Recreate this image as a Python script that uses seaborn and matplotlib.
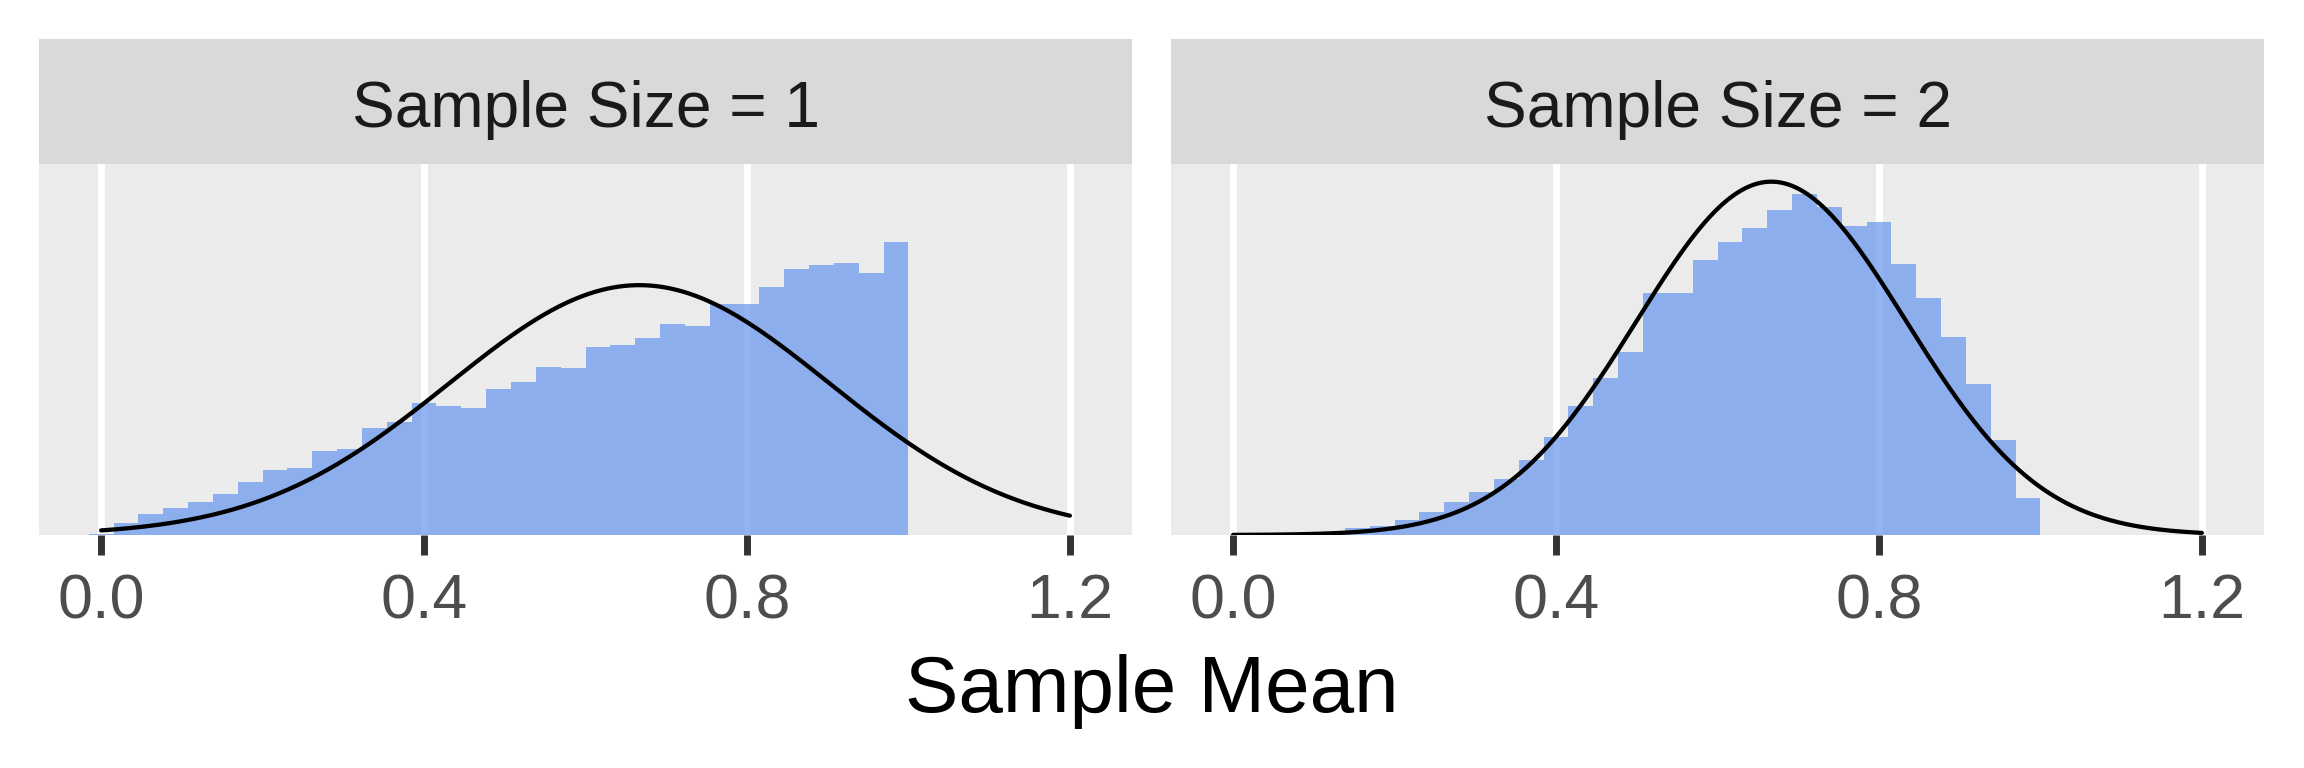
import numpy as np
import pandas as pd
import seaborn as sns
import matplotlib.pyplot as plt

# histogram densities (bins of width 1.2/39 centred on k * width)
BIN_WIDTH = 1.2 / 39
size1_first_bin = 0
size1_density = [
    0.010, 0.079, 0.140, 0.181, 0.222, 0.276, 0.357, 0.439, 0.452, 0.567,
    0.581, 0.723, 0.764, 0.893, 0.873, 0.859, 0.988, 1.035, 1.137, 1.130,
    1.273, 1.286, 1.334, 1.428, 1.415, 1.564, 1.564, 1.679, 1.801, 1.828,
    1.842, 1.774, 1.984,
]
size2_first_bin = 3
size2_density = [
    0.010, 0.020, 0.045, 0.059, 0.100, 0.154, 0.222, 0.290, 0.378, 0.506,
    0.662, 0.873, 1.062, 1.239, 1.639, 1.639, 1.862, 1.984, 2.079, 2.201,
    2.310, 2.222, 2.093, 2.120, 1.835, 1.605, 1.340, 1.022, 0.642, 0.249,
]

# normal approximation: population mean / sd, curve drawn over [0, 1.2]
pop_mean = 2 / 3
pop_sd = np.sqrt(1 / 18)
curve_range = (0.0, 1.2)
sample_sizes = [1, 2]
x_ticks = [0.0, 0.4, 0.8, 1.2]
x_tick_labels = ["0.0", "0.4", "0.8", "1.2"]


def hist_frame(first_bin, density):
    k = np.arange(first_bin, first_bin + len(density))
    return pd.DataFrame({"center": k * BIN_WIDTH, "density": density})


def curve_frame(n):
    sd = pop_sd / np.sqrt(n)
    x = np.linspace(curve_range[0], curve_range[1], 500)
    y = np.exp(-0.5 * ((x - pop_mean) / sd) ** 2) / (sd * np.sqrt(2 * np.pi))
    return pd.DataFrame({"x": x, "y": y})


def main():
    sns.set_theme(
        style="darkgrid",
        rc={
            "axes.facecolor": "#EBEBEB",
            "grid.color": "white",
            "grid.linewidth": 2.6,
        },
    )
    plt.rcParams["font.family"] = ["Liberation Sans", "DejaVu Sans"]

    hists = [
        hist_frame(size1_first_bin, size1_density),
        hist_frame(size2_first_bin, size2_density),
    ]
    curves = [curve_frame(n) for n in sample_sizes]
    y_top = max(c["y"].max() for c in curves) * 1.05

    W, H = 2304, 768
    fig = plt.figure(figsize=(12, 4), dpi=192)

    panel_left = [39, 1171]
    panel_w = 1093
    panel_top, panel_bottom = 164, 535
    strip_top = 39

    # bins in the scale run from -w/2 to 1.2 + w/2, then 5% expansion
    lo = -BIN_WIDTH / 2
    hi = 1.2 + BIN_WIDTH / 2
    pad = (hi - lo) * 0.05

    for i, n in enumerate(sample_sizes):
        left = panel_left[i] / W
        ax = fig.add_axes(
            [left, 1 - panel_bottom / H, panel_w / W, (panel_bottom - panel_top) / H]
        )
        h = hists[i]
        b_lo = h["center"].iloc[0] - BIN_WIDTH / 2
        b_hi = h["center"].iloc[-1] + BIN_WIDTH / 2
        sns.histplot(
            data=h,
            x="center",
            weights="density",
            binwidth=BIN_WIDTH,
            binrange=(b_lo, b_hi),
            stat="count",
            color="cornflowerblue",
            alpha=0.7,
            linewidth=0,
            ax=ax,
        )
        sns.lineplot(data=curves[i], x="x", y="y", color="black",
                     linewidth=1.6, ax=ax)

        ax.set_xlim(lo - pad, hi + pad)
        ax.set_ylim(0, y_top)
        ax.set_axisbelow(True)
        ax.grid(axis="y", visible=False)
        ax.set_xticks(x_ticks)
        ax.set_xticklabels(x_tick_labels)
        ax.set_yticks([])
        ax.set_xlabel("")
        ax.set_ylabel("")
        ax.tick_params(axis="x", bottom=True, length=7.5, width=2.6,
                       color="#333333", labelcolor="#4D4D4D",
                       labelsize=23.5, pad=6.5)
        for s in ax.spines.values():
            s.set_visible(False)

        # facet strip
        sax = fig.add_axes(
            [left, 1 - panel_top / H, panel_w / W, (panel_top - strip_top) / H]
        )
        sax.set_facecolor("#D9D9D9")
        sax.set_xticks([])
        sax.set_yticks([])
        sax.grid(False)
        for s in sax.spines.values():
            s.set_visible(False)
        fig.text(left + panel_w / W / 2, 1 - 126.5 / H, f"Sample Size = {n}",
                 ha="center", va="baseline", fontsize=24, color="#1A1A1A")

    fig.text((39 + 2264) / 2 / W, 1 - 712 / H, "Sample Mean", ha="center",
             va="baseline", fontsize=30, color="black")

    fig.savefig("out.png", dpi=192, facecolor="white")
    plt.close(fig)


if __name__ == "__main__":
    main()
